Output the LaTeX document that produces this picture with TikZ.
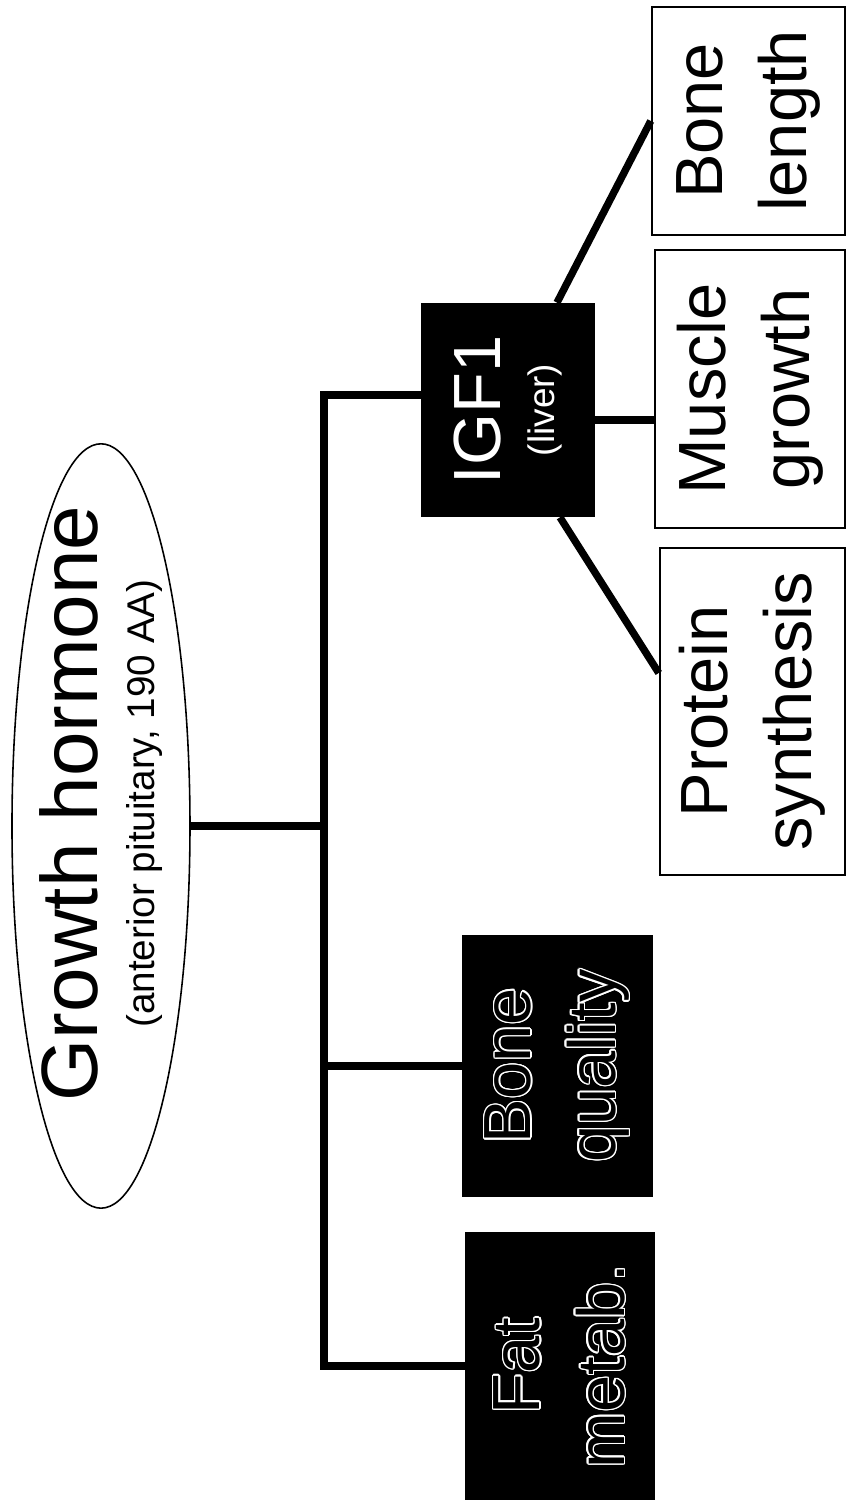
\documentclass[tikz,border=0pt]{standalone}
\usepackage{fontspec}
\setmainfont{Liberation Sans}
\usepackage{contour}
\contourlength{0.8pt}
\usetikzlibrary{shapes.geometric,positioning}

\newcommand{\hollow}[1]{\contour{white}{#1}}

\begin{document}
\begin{tikzpicture}[
  rotate=90, transform shape,
  font=\fontsize{38}{48}\selectfont,
  root/.style={ellipse, draw, line width=0.9pt, align=center,
    minimum width=15.16cm, minimum height=3.56cm,
    inner xsep=-1cm, inner ysep=-0.1cm, font=\fontsize{22}{32}\selectfont},
  effect/.style={draw, line width=1.4pt, align=center, inner sep=0pt},
  darkbox/.style={fill=black, align=center, inner sep=0pt},
  link/.style={line width=4.2pt}
]
\useasboundingbox (0,0) rectangle (30.22,16.98);

% hormone and its direct targets
\node[root] (gh) at (13.70,14.96)
  {\hspace*{0.9cm}{\fontsize{45.5}{54}\selectfont Growth hormone}\\
   \hspace*{0.9cm}(anterior pituitary, 190 AA)};
\node[darkbox, text=white, minimum width=4.28cm, minimum height=3.48cm,
  font=\fontsize{21}{31}\selectfont] (igf) at (22.02,6.82)
  {{\fontsize{38}{46}\selectfont IGF1}\\(liver)};
\node[darkbox, minimum width=5.24cm, minimum height=3.82cm] (bq) at (8.90,5.83)
  {\hollow{Bone}\\\hollow{quality}};
\node[darkbox, minimum width=5.36cm, minimum height=3.80cm] (fat) at (2.90,5.78)
  {\hollow{Fat}\\\hollow{metab.}};

% IGF1 targets
\node[effect, minimum width=4.56cm, minimum height=3.86cm] (bln) at (27.80,2.01)
  {Bone\\length};
\node[effect, minimum width=5.56cm, minimum height=3.80cm] (mus) at (22.44,1.98)
  {Muscle\\growth};
\node[effect, minimum width=6.54cm, minimum height=3.70cm] (pro) at (15.99,1.93)
  {Protein\\synthesis};

% tree
\coordinate (tr) at (0,10.5);
\coordinate (t1) at ([xshift=0.3cm]igf.north);
\draw[link] (fat.north) |- (t1 |- tr) -- (t1);
\draw[link] (bq.north) -- (bq.north |- tr);
\draw[link] (gh.south) -- (gh.south |- tr);

\coordinate (m1) at ([xshift=-0.2cm]igf.south);
\draw[link] ([yshift=-0.98cm]igf.east) -- (bln.north);
\draw[link] (m1) -- (m1 |- mus.north);
\draw[link] ([yshift=-1.04cm]igf.west) -- ([xshift=0.77cm]pro.north);
\end{tikzpicture}
\end{document}
